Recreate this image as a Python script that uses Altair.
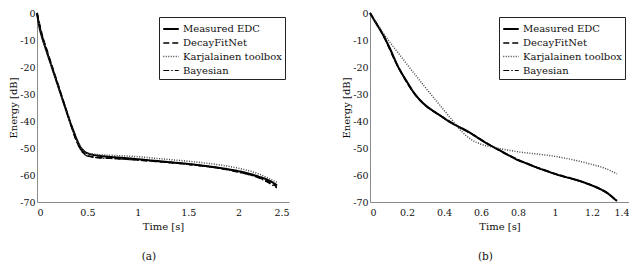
import altair as alt
import pandas as pd

SERIES = ["Measured EDC", "DecayFitNet", "Karjalainen toolbox", "Bayesian"]

# ---- panel (a) ----
a_meas_t = [0, 0.02, 0.05, 0.08, 0.12, 0.16, 0.2, 0.24, 0.28, 0.32, 0.36, 0.40, 0.43, 0.47, 0.52, 0.6, 0.7, 0.9, 1.1, 1.3, 1.5, 1.7, 1.9, 2.05, 2.2, 2.3, 2.38]
a_meas_v = [0, -4.5, -9, -12.5, -17, -21.5, -26, -30.5, -35, -39.5, -43.5, -47.3, -49.6, -51.3, -52.2, -52.8, -53.2, -53.8, -54.5, -55.2, -55.9, -56.8, -57.9, -59.0, -60.6, -62.0, -63.8]

a_dfn_t = [0, 0.05, 0.1, 0.2, 0.3, 0.4, 0.45, 0.5, 0.6, 0.8, 1.0, 1.2, 1.5, 1.8, 2.0, 2.2, 2.38]
a_dfn_v = [0, -8, -14, -25.5, -37, -48, -51.3, -52.8, -53.5, -53.9, -54.4, -55.0, -56.0, -57.4, -58.8, -60.9, -64.3]

a_kar_t = [0, 0.05, 0.1, 0.2, 0.3, 0.4, 0.45, 0.5, 0.6, 0.8, 1.0, 1.2, 1.5, 1.8, 2.0, 2.2, 2.38]
a_kar_v = [0, -8.5, -14.5, -26, -37.5, -47.5, -50.6, -51.9, -52.4, -52.8, -53.2, -53.9, -54.9, -56.2, -57.5, -59.6, -62.8]

a_bay_t = [0, 0.05, 0.1, 0.2, 0.3, 0.4, 0.45, 0.5, 0.6, 0.8, 1.0, 1.2, 1.5, 1.8, 2.0, 2.2, 2.38]
a_bay_v = [0, -8.2, -14.2, -25.8, -37.3, -48.2, -51.6, -53.0, -53.6, -54.0, -54.5, -55.1, -56.1, -57.5, -59.0, -61.1, -64.8]

# ---- panel (b) ----
b_meas_t = [0, 0.03, 0.065, 0.1, 0.155, 0.2, 0.24, 0.29, 0.34, 0.38, 0.43, 0.47, 0.52, 0.56, 0.6, 0.65, 0.7, 0.75, 0.8, 0.85, 0.9, 0.95, 1.0, 1.05, 1.1, 1.15, 1.2, 1.25, 1.28, 1.3, 1.32, 1.335]
b_meas_v = [0, -3.5, -7.4, -12, -20.3, -25.5, -29.8, -33.6, -36.2, -38, -40.3, -41.8, -43.5, -45.2, -47, -49, -50.8, -52.7, -54.5, -55.8, -57.2, -58.4, -59.6, -60.6, -61.5, -62.6, -63.9, -65.4, -66.5, -67.6, -68.8, -69.6]

b_dfn_t = [0, 0.065, 0.155, 0.24, 0.29, 0.38, 0.47, 0.56, 0.65, 0.75, 0.85, 0.95, 1.05, 1.15, 1.25, 1.3, 1.335]
b_dfn_v = [0, -7.4, -20.3, -29.8, -33.6, -38, -41.8, -45.2, -49, -52.7, -55.8, -58.4, -60.6, -62.6, -65.4, -67.6, -69.6]

b_kar_t = [0, 0.065, 0.164, 0.29, 0.4, 0.452, 0.5, 0.55, 0.6, 0.67, 0.74, 0.8, 0.9, 1.0, 1.1, 1.2, 1.27, 1.335]
b_kar_v = [0, -6.8, -15.8, -26.8, -36, -40.3, -44.2, -47, -48.6, -49.8, -50.7, -51.4, -52.2, -53.1, -54.4, -56.1, -57.5, -59.6]

b_bay_t = [0, 0.065, 0.155, 0.24, 0.29, 0.38, 0.47, 0.56, 0.65, 0.75, 0.85, 0.95, 1.05, 1.15, 1.25, 1.3, 1.335]
b_bay_v = [0, -7.4, -20.3, -29.8, -33.6, -38, -41.8, -45.2, -49, -52.7, -55.8, -58.4, -60.6, -62.6, -65.4, -67.6, -69.6]

a_xticks = [0, 0.5, 1, 1.5, 2, 2.5]
b_xticks = [0, 0.2, 0.4, 0.6, 0.8, 1, 1.2, 1.4]
yticks = [-70, -60, -50, -40, -30, -20, -10, 0]

FONT = "DejaVu Serif"


def frame(groups):
    rows = []
    for name, ts, vs in groups:
        for i, (t, v) in enumerate(zip(ts, vs)):
            rows.append({"series": name, "t": t, "v": v, "order": i})
    return pd.DataFrame(rows)


def panel(df, xmax, xticks, width, caption):
    enc_legend = dict(
        orient="top-right", offset=4, title=None,
        symbolType="stroke", symbolSize=240, symbolStrokeColor="black",
        labelFont=FONT, labelFontSize=10, labelColor="#111",
        strokeColor="#222", fillColor="white", padding=3,
        rowPadding=0, labelOffset=3, cornerRadius=0,
    )
    return alt.Chart(df).mark_line(interpolate="monotone").encode(
        x=alt.X("t:Q", scale=alt.Scale(domain=[0, xmax], nice=False),
                axis=alt.Axis(values=xticks, title="Time [s]", labelExpr="datum.value + ''")),
        y=alt.Y("v:Q", scale=alt.Scale(domain=[-70, 0], nice=False),
                axis=alt.Axis(values=yticks, title="Energy [dB]", labelExpr="datum.value + ''")),
        detail="series:N",
        order="order:Q",
        color=alt.Color("series:N", scale=alt.Scale(domain=SERIES, range=["black", "black", "#444", "black"]),
                        legend=alt.Legend(**enc_legend)),
        strokeDash=alt.StrokeDash("series:N", scale=alt.Scale(domain=SERIES, range=[[1, 0], [6, 3], [1, 1.5], [6, 2, 1.5, 2]]),
                                  legend=alt.Legend(**enc_legend)),
        strokeWidth=alt.StrokeWidth("series:N", scale=alt.Scale(domain=SERIES, range=[2.0, 1.2, 1.0, 1.2]),
                                    legend=alt.Legend(**enc_legend)),
    ).properties(
        width=width, height=189,
        title=alt.TitleParams(caption, orient="bottom", anchor="middle", offset=20, frame="bounds",
                              font=FONT, fontSize=10.5, fontWeight="normal", color="#111"),
    )


df_a = frame([(SERIES[0], a_meas_t, a_meas_v), (SERIES[1], a_dfn_t, a_dfn_v),
              (SERIES[2], a_kar_t, a_kar_v), (SERIES[3], a_bay_t, a_bay_v)])
df_b = frame([(SERIES[0], b_meas_t, b_meas_v), (SERIES[1], b_dfn_t, b_dfn_v),
              (SERIES[2], b_kar_t, b_kar_v), (SERIES[3], b_bay_t, b_bay_v)])

left = panel(df_a, 2.5, a_xticks, 252, "(a)")
right = panel(df_b, 1.4, b_xticks, 259, "(b)")

chart = alt.hconcat(left, right, spacing=52).resolve_scale(
    x="independent", y="independent",
    color="independent", strokeDash="independent", strokeWidth="independent",
).configure(padding=0, background="white", font=FONT).configure_view(stroke=None).configure_axis(
    grid=False, ticks=False, domainColor="#8a8a8a", domainWidth=1,
    labelFont=FONT, labelFontSize=9.5, labelColor="#111",
    titleFont=FONT, titleFontSize=10, titleFontWeight="normal", titleColor="#111",
).configure_axisX(labelPadding=5, titlePadding=5).configure_axisY(labelPadding=2, titlePadding=1)

chart.save("out.html", embed_options={"renderer": "svg", "actions": False})
